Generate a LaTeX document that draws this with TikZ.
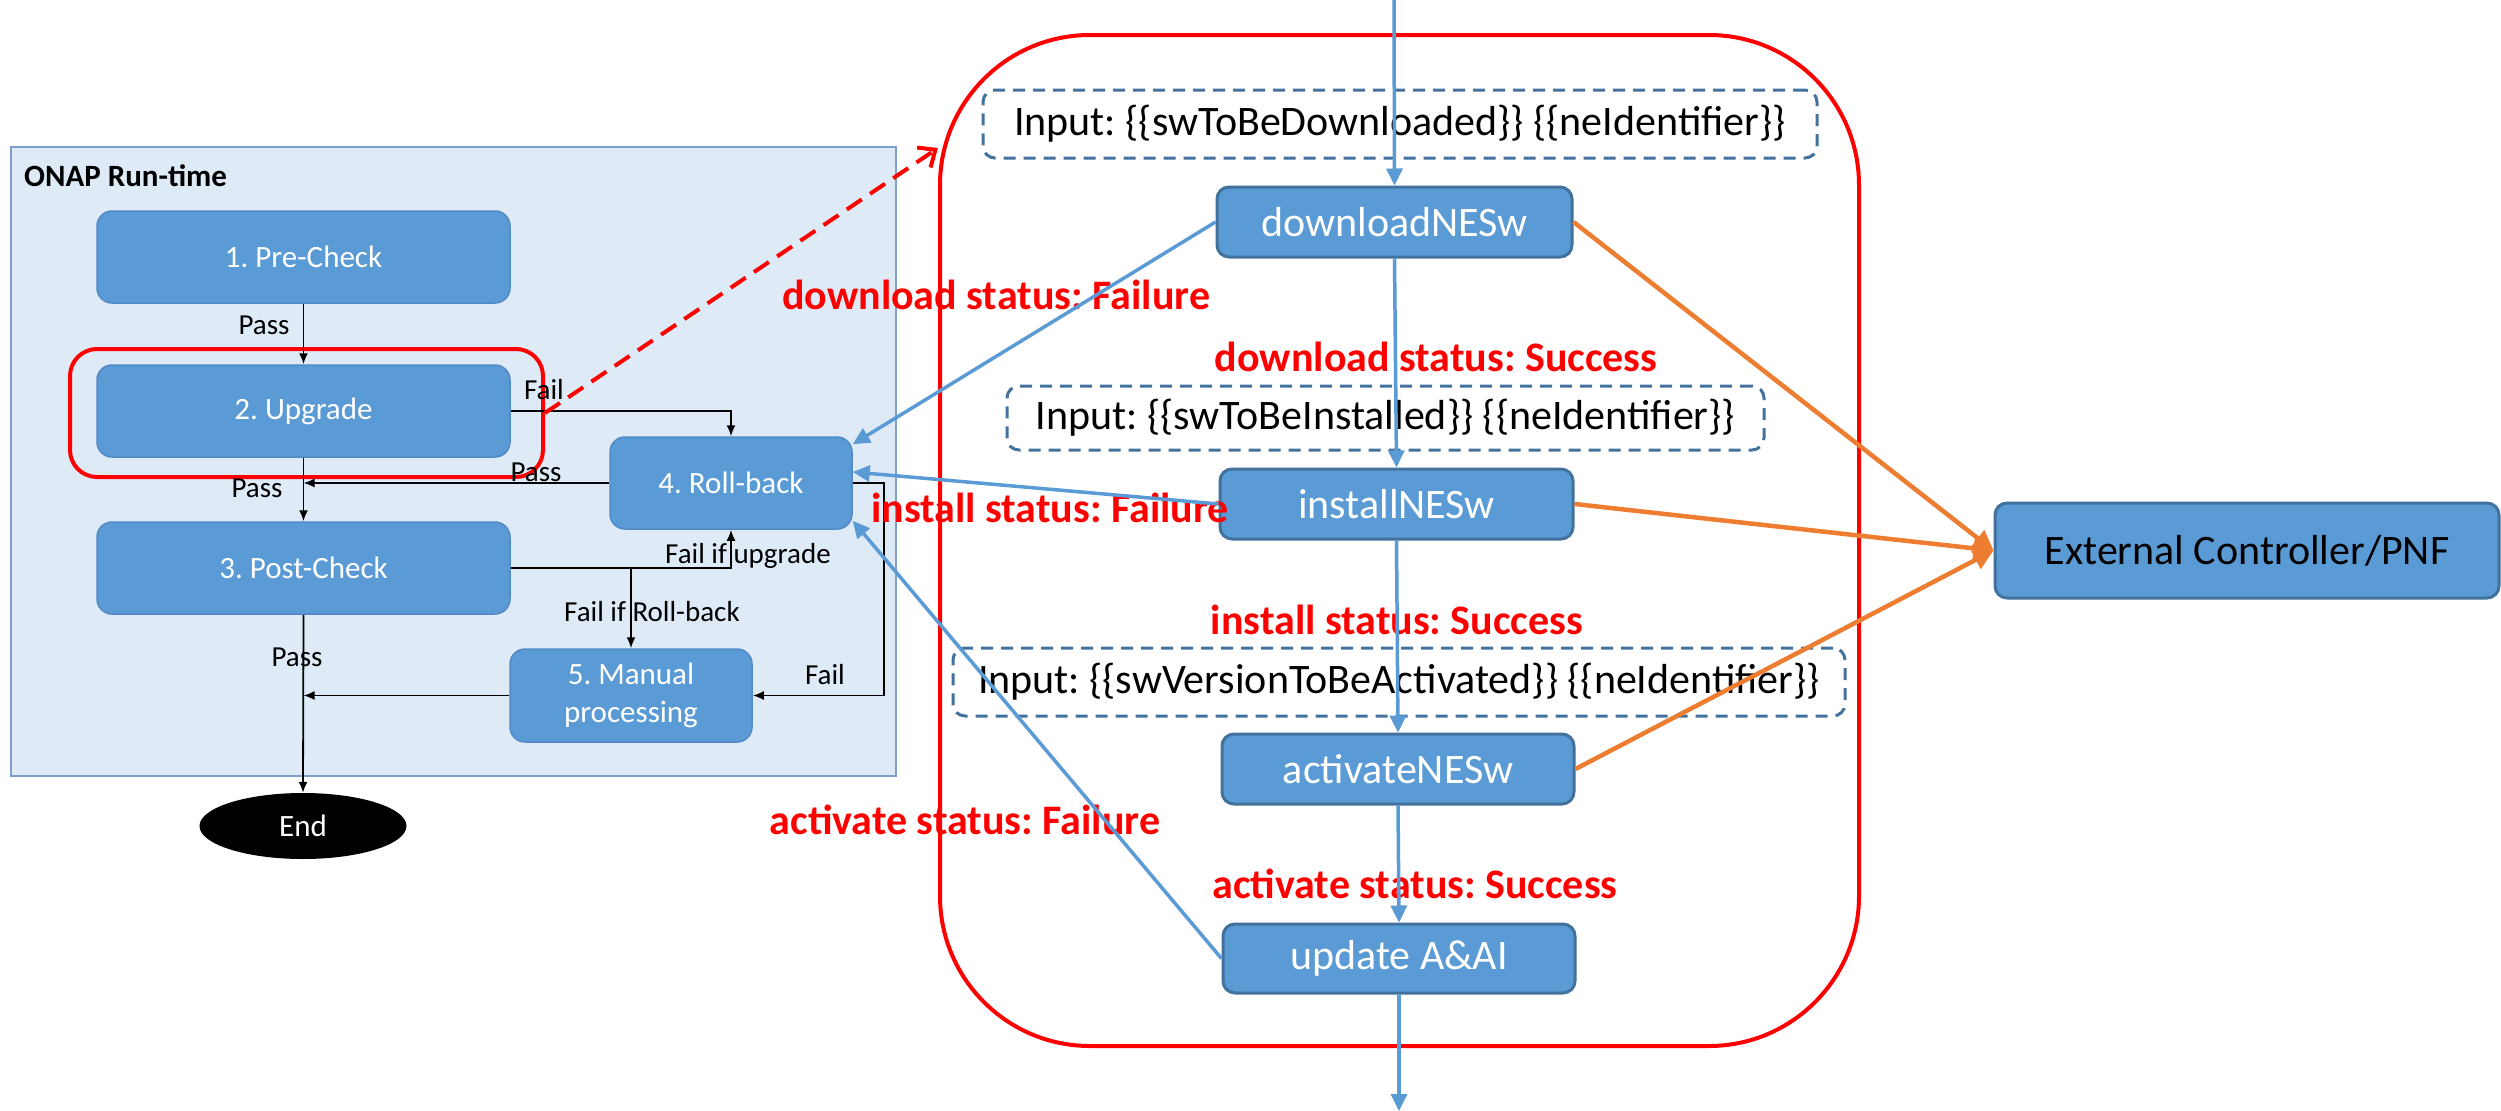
\documentclass[tikz,border=0pt]{standalone}
\usepackage{fontspec}
\setmainfont{Carlito}
\usetikzlibrary{arrows.meta,shapes.geometric}

\definecolor{boxblue}{HTML}{5B9BD5}
\definecolor{boxedge}{HTML}{41719C}
\definecolor{onapedge}{HTML}{5289C7}
\definecolor{panelfill}{HTML}{DEEBF7}
\definecolor{paneledge}{HTML}{7C9FCB}
\definecolor{linkblue}{HTML}{5B9BD5}
\definecolor{linkorange}{HTML}{ED7D31}
\definecolor{dashedge}{HTML}{44729E}
\definecolor{alertred}{HTML}{FF0000}

\begin{document}
\frenchspacing
\begin{tikzpicture}[x=1pt,y=-1pt,
  onapbox/.style={draw=onapedge, line width=1.5pt, fill=boxblue, rounded corners=15pt,
    text=white, font=\fontsize{31}{38}\selectfont, align=center, inner sep=0pt},
  flowbox/.style={draw=boxedge, line width=3pt, fill=boxblue, rounded corners=12pt,
    text=white, font=\fontsize{42}{50}\selectfont, inner sep=0pt},
  inputbox/.style={draw=dashedge, line width=3pt, dash pattern=on 12pt off 8pt,
    rounded corners=12pt, font=\fontsize{42}{50}\selectfont, inner sep=0pt},
  flowlabel/.style={font=\fontsize{29}{34}\selectfont, inner sep=0pt},
  status/.style={text=alertred, font=\bfseries\fontsize{42}{50}\selectfont, inner sep=0pt},
  onaplink/.style={draw=black, line width=1.8pt},
  onaparrow/.style={onaplink, -{Latex[length=11pt,width=9pt]}},
  bluelink/.style={draw=linkblue, line width=3.5pt, -{Triangle[length=17pt,width=16pt]}},
  orangelink/.style={draw=linkorange, line width=4.5pt, -{Triangle[length=20pt,width=20pt]}},
]
\useasboundingbox (0,0) rectangle (2501,1111);
\fill[white] (0,0) rectangle (2501,1111);

% ---------------- ONAP run-time panel ----------------
\node[draw=paneledge, line width=1.5pt, fill=panelfill, minimum width=885pt, minimum height=629pt,
      inner sep=0pt] (onap) at (453.5,461.5) {};
\node[anchor=west, font=\bfseries\fontsize{31}{38}\selectfont, inner sep=0pt] (onaptitle) at (24,176) {ONAP Run-time};

\node[onapbox, minimum width=413pt, minimum height=92pt] (pre)  at (303.5,257) {1. Pre-Check};
\node[onapbox, minimum width=413pt, minimum height=92pt] (upg)  at (303.5,411) {2. Upgrade};
\node[onapbox, minimum width=413pt, minimum height=92pt] (post) at (303.5,568) {3. Post-Check};
\node[onapbox, minimum width=242pt, minimum height=92pt] (rb)   at (731,483)   {4. Roll-back};
\node[onapbox, minimum width=242pt, minimum height=93pt] (man)  at (631,695.5) {5. Manual\\processing};
\node[ellipse, fill=black, minimum width=207pt, minimum height=66pt, inner sep=0pt, text=white,
      font=\fontsize{31}{38}\selectfont] (end) at (303,826) {End};

% highlight around the upgrade step
\node[draw=alertred, line width=4pt, rounded corners=27pt, minimum width=473pt, minimum height=128pt,
      inner sep=0pt] (hl) at (306.5,413) {};

% panel labels
\node[flowlabel] (lpass1) at (264,325) {Pass};
\node[flowlabel] (lfail1) at (544,390) {Fail};
\node[flowlabel] (lpass2) at (536,472) {Pass};
\node[flowlabel] (lpass3) at (257,488) {Pass};
\node[flowlabel] (lfailup) at (748,556) {Fail if upgrade};
\node[flowlabel] (lfailrb) at (652,612) {Fail if Roll-back};
\node[flowlabel] (lfail2) at (825,675) {Fail};
\node[flowlabel] (lpass4) at (297,657) {Pass};

% panel connectors
\draw[onaparrow] (pre.south) -- (upg.north);
\draw[onaparrow] (upg.east) -| (rb.north);
\draw[onaparrow] (rb.west) -- (rb.west -| upg.south);
\draw[onaparrow] (upg.south) -- (post.north);
\draw[onaparrow] (post.east) -| (rb.south);
\draw[onaparrow] (man.north |- post.east) -- (man.north);
\draw[onaparrow] (rb.east) -- ++(31,0) |- (man.east);
\draw[onaparrow] (man.west) -- (man.west -| post.south);
\draw[onaparrow] (post.south) -- (end.north);

% ---------------- NE software upgrade steps ----------------
\node[draw=alertred, line width=4pt, rounded corners=150pt, minimum width=919pt, minimum height=1011pt,
      inner sep=0pt] (stage) at (1399.5,540.5) {};

\node[inputbox, minimum width=834pt, minimum height=68pt] (in1) at (1400,124)
  {Input: \{\{swToBeDownloaded\}\} \{\{neIdentifier\}\}};
\node[inputbox, minimum width=757pt, minimum height=64pt] (in2) at (1385.5,418)
  {Input: \{\{swToBeInstalled\}\} \{\{neIdentifier\}\}};
\node[inputbox, minimum width=892pt, minimum height=68pt] (in3) at (1399,682)
  {Input: \{\{swVersionToBeActivated\}\} \{\{neIdentifier\}\}};

\node[flowbox, minimum width=355pt, minimum height=70pt] (dl)   at (1394.5,222) {downloadNESw};
\node[flowbox, minimum width=353pt, minimum height=70pt] (inst) at (1396.5,504) {installNESw};
\node[flowbox, minimum width=352pt, minimum height=70pt] (act)  at (1398,769)   {activateNESw};
\node[flowbox, minimum width=352pt, minimum height=69pt] (upd)  at (1399,958.5) {update A\&AI};

\node[flowbox, text=black, minimum width=504pt, minimum height=95pt] (ext) at (2247,550.5)
  {External Controller/PNF};

% status labels
\node[status] (sdlf) at (996,295)  {download status: Failure};
\node[status] (sdls) at (1436,357) {download status: Success};
\node[status] (sinf) at (1050,508) {install status: Failure};
\node[status] (sins) at (1397,620) {install status: Success};
\node[status] (sacf) at (965,820)  {activate status: Failure};
\node[status] (sacs) at (1415,884) {activate status: Success};

% main sequence
\coordinate (topin) at (1394,0);
\coordinate (botout) at (1399,1111);
\draw[bluelink] (topin) -- (dl.north);
\draw[bluelink] (dl.south) -- (inst.north);
\draw[bluelink] (inst.south) -- (act.north);
\draw[bluelink] (act.south) -- (upd.north);
\draw[bluelink] (upd.south) -- (botout);

% failures go back to roll-back
\draw[bluelink] (dl.west) -- ([yshift=-8pt]rb.north east);
\draw[bluelink] (inst.west) -- ([yshift=11pt]rb.east);
\draw[bluelink] (upd.west) -- ([yshift=9pt]rb.south east);

% requests to the external controller
\draw[orangelink] (dl.east) -- (ext.west);
\draw[orangelink] (inst.east) -- (ext.west);
\draw[orangelink] (act.east) -- (ext.west);

% upgrade step expands into the sequence
\coordinate (dashend) at (938,148);
\draw[draw=alertred, line width=4pt, dash pattern=on 18pt off 10pt,
      -{Straight Barb[length=14pt,width=24pt]}] (hl.east) -- (dashend);
\end{tikzpicture}
\end{document}
